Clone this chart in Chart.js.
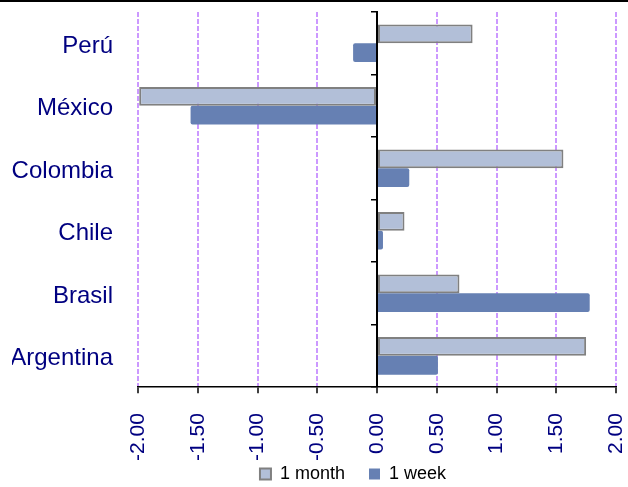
<!DOCTYPE html>
<html>
<head>
<meta charset="utf-8">
<script src="https://cdn.jsdelivr.net/npm/chart.js@4/dist/chart.umd.min.js"></script>
<style>
  body { margin: 0; background: #fff; }
  #frame { position: relative; width: 628px; height: 487px; }
  #topRule { position: absolute; left: 0; top: 0; width: 628px; height: 2px; background: #000; }
</style>
</head>
<body>
<div id="frame">
  <canvas id="fxChart" width="628" height="487"></canvas>
  <div id="topRule"></div>
</div>
<script>
var countries = ['Perú', 'México', 'Colombia', 'Chile', 'Brasil', 'Argentina'];
var oneMonth = [0.80, -1.99, 1.56, 0.23, 0.69, 1.75];
var oneWeek = [-0.20, -1.56, 0.27, 0.05, 1.78, 0.51];
var seriesNames = ['1 month', '1 week'];

var navy = '#000080';
var gridPurple = '#cc99ff';
var fontFamily = 'Arial, "Liberation Sans", sans-serif';

var isZero = function(ctx) {
  return ctx.tick && ctx.tick.value === 0;
};

// tick padding should only push labels away from their axis:
// count it once in the axis size and keep it off the plot edges
var tightAxis = function(scale) {
  var pad = scale.options.ticks.padding;
  if (scale.isHorizontal()) {
    scale.height -= pad;
  } else {
    scale.width -= pad;
  }
  scale.paddingLeft = 0;
  scale.paddingRight = 0;
  scale.paddingTop = 0;
  scale.paddingBottom = 0;
};

// legend sits a little left of the plot centre
var legendShift = {
  id: 'legendShift',
  afterLayout: function(chart) {
    chart.legend.left -= 24;
    chart.legend.right -= 24;
  }
};

var legendLabels = function(chart) {
  var items = Chart.defaults.plugins.legend.labels.generateLabels(chart);
  // wider gap after the first entry
  items[0].text += '    ';
  return items;
};

var ctx = document.getElementById('fxChart').getContext('2d');

var chart = new Chart(ctx, {
  type: 'bar',
  data: {
    labels: countries,
    datasets: [{
      label: seriesNames[0],
      data: oneMonth,
      backgroundColor: '#b2bfd8',
      borderColor: '#808080',
      borderWidth: 2,
      borderSkipped: false
    }, {
      label: seriesNames[1],
      data: oneWeek,
      backgroundColor: '#6680b3',
      borderWidth: 0,
      borderRadius: 2
    }]
  },
  plugins: [legendShift],
  options: {
    indexAxis: 'y',
    responsive: false,
    animation: false,
    categoryPercentage: 0.6,
    barPercentage: 1.0,
    layout: { padding: { left: 12, right: 12, top: 12, bottom: -6 } },
    plugins: {
      tooltip: { enabled: false },
      legend: {
        position: 'bottom',
        fullSize: false,
        labels: {
          boxWidth: 11,
          boxHeight: 11,
          padding: 4,
          color: '#000',
          font: { family: fontFamily, size: 18 },
          generateLabels: legendLabels
        }
      }
    },
    scales: {
      x: {
        type: 'linear',
        min: -2,
        max: 2,
        afterFit: tightAxis,
        ticks: {
          stepSize: 0.5,
          minRotation: 90,
          maxRotation: 90,
          padding: 20,
          color: navy,
          font: { family: fontFamily, size: 21 },
          callback: function(value) { return value.toFixed(2); }
        },
        grid: {
          color: function(c) { return isZero(c) ? '#000' : gridPurple; },
          lineWidth: 2,
          tickColor: '#000',
          tickLength: 6,
          tickBorderDash: [],
          tickWidth: 1.5
        },
        border: {
          color: '#000',
          width: 1.5,
          dash: function(c) { return isZero(c) ? [] : [5, 2]; }
        }
      },
      // zero axis with its category tick marks
      y: {
        type: 'category',
        position: { x: 0 },
        offset: true,
        ticks: { display: false },
        grid: {
          offset: true,
          drawOnChartArea: false,
          drawTicks: true,
          tickLength: 5,
          color: '#000',
          lineWidth: 1.5
        },
        border: { color: '#000', width: 2 }
      },
      // country names along the left edge
      yl: {
        type: 'category',
        position: 'left',
        offset: true,
        afterFit: tightAxis,
        grid: { display: false, drawTicks: false },
        border: { display: false },
        ticks: {
          padding: 25,
          labelOffset: 3,
          color: navy,
          font: { family: fontFamily, size: 24 }
        }
      }
    }
  }
});
</script>
</body>
</html>
